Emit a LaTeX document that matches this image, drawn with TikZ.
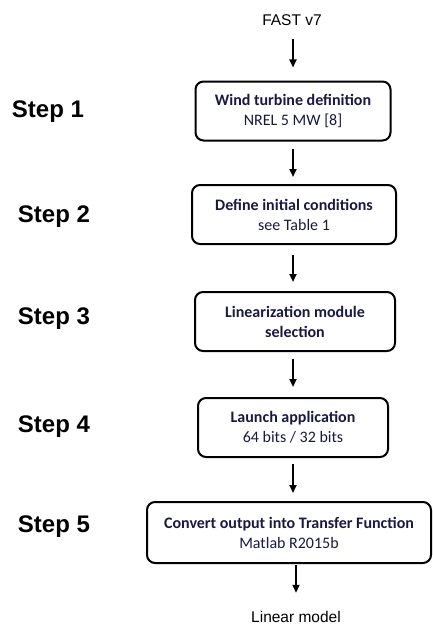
\documentclass[tikz,border=0pt]{standalone}
\usepackage{fontspec}
\setmainfont{Carlito}
\newfontfamily\arialfont{Liberation Sans}
\usetikzlibrary{arrows.meta}
\definecolor{boxtext}{RGB}{25,25,65}
\tikzset{
	stepbox/.style={draw, line width=2pt, rounded corners=8pt, minimum height=59pt, align=center, inner sep=0pt, text=boxtext, font=\fontsize{16}{20}\selectfont},
	steplabel/.style={font=\arialfont\bfseries\fontsize{24}{28}\selectfont},
	endlabel/.style={font=\arialfont\fontsize{15.5}{18}\selectfont},
	flow/.style={-{Triangle[width=7pt,length=8pt]}, line width=2pt}
}
\begin{document}
\begin{tikzpicture}[x=1pt, y=-1pt, line join=round]
		\useasboundingbox (0,0) rectangle (433,626);
		% Eingang und Ausgang
		\node[endlabel] (fast) at (292,20) {FAST v7};
		\node[endlabel] (lin) at (296,617) {Linear model};
		% Kaesten
		\node[stepbox, minimum width=195pt] (b1) at (293,111) {\textbf{Wind turbine definition}\\NREL 5 MW [8]};
		\node[stepbox, minimum width=204pt] (b2) at (294,214.5) {\textbf{Define initial conditions}\\see Table 1};
		\node[stepbox, minimum width=200pt] (b3) at (295,321.5) {\textbf{Linearization module}\\\textbf{selection}};
		\node[stepbox, minimum width=190pt] (b4) at (293,427.5) {\textbf{Launch application}\\64 bits / 32 bits};
		\node[stepbox, minimum width=284pt, minimum height=61pt] (b5) at (289,532.5) {\textbf{Convert output into Transfer Function}\\Matlab R2015b};
		% Schritte
		\node[steplabel] (s1) at (48,112) {Step 1};
		\node[steplabel] (s2) at (54,217) {Step 2};
		\node[steplabel] (s3) at (54,319) {Step 3};
		\node[steplabel] (s4) at (54,427) {Step 4};
		\node[steplabel] (s5) at (54,527) {Step 5};
		% Pfeile
		\draw[flow, shorten <=10pt, shorten >=13pt] (fast.south -| b1.north) -- (b1.north);
		\draw[flow, shorten <=7pt, shorten >=7pt] (b1.south) -- (b1.south |- b2.north);
		\draw[flow, shorten <=10pt, shorten >=9pt] (b2.south -| b1.south) -- (b3.north -| b1.south);
		\draw[flow, shorten <=7pt, shorten >=10pt] (b3.south -| b1.south) -- (b4.north -| b1.south);
		\draw[flow, shorten <=6pt, shorten >=8pt] (b4.south) -- (b4.south |- b5.north);
		\draw[flow, shorten <=1pt, shorten >=15pt] (b5.south -| lin) -- (lin);
\end{tikzpicture}
\end{document}
